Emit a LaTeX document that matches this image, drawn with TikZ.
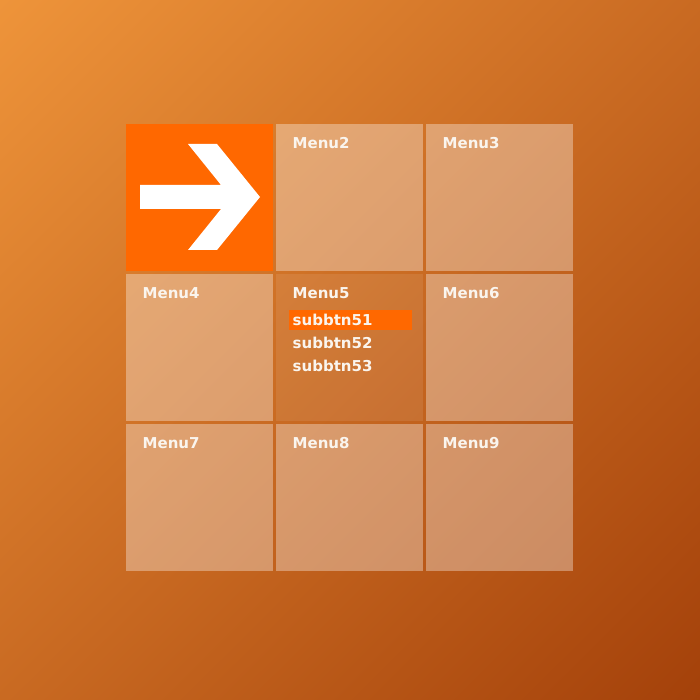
\documentclass[tikz,border=0pt]{standalone}
\usepackage{fontspec}
\usetikzlibrary{shadings}
\setmainfont{DejaVu Sans}
\begin{document}
\begin{tikzpicture}[x=1pt,y=-1pt,
  tile/.style={minimum width=147pt,minimum height=147pt,inner sep=0pt,outer sep=0pt,anchor=north west,fill=white,fill opacity=0.34,draw=none},
  acttile/.style={tile,fill=white,fill opacity=0.09},
  hometile/.style={tile,fill=tileorange,fill opacity=1},
  lbl/.style={anchor=base west,inner sep=0pt,text=txt,font=\bfseries\fontsize{15}{17}\selectfont},
  hbar/.style={fill=tileorange,draw=none,inner sep=0pt,minimum width=123pt,minimum height=20pt,anchor=north west}]
\definecolor{bgA}{RGB}{238,148,58}
\definecolor{bgB}{RGB}{164,65,10}
\definecolor{bgM}{RGB}{201,106,34}
\definecolor{tileorange}{RGB}{255,104,0}
\definecolor{txt}{RGB}{250,245,238}
\useasboundingbox (0,0) rectangle (700,700);
\shade[upper left=bgA,lower right=bgB,upper right=bgM,lower left=bgM] (0,0) rectangle (700,700);
% tiles
\node[hometile] (t1) at (126,124) {};
\node[tile] (t2) at (276,124) {};
\node[tile] (t3) at (426,124) {};
\node[tile] (t4) at (126,274) {};
\node[acttile] (t5) at (276,274) {};
\node[tile] (t6) at (426,274) {};
\node[tile] (t7) at (126,424) {};
\node[tile] (t8) at (276,424) {};
\node[tile] (t9) at (426,424) {};
% arrow
\fill[white] (140,185) -- (221,185) -- (188,144) -- (217,144) -- (260,197) -- (217,250) -- (188,250) -- (221,209) -- (140,209) -- cycle;
% labels
\node[lbl] (l2) at (292.5,149) {Menu2};
\node[lbl] (l3) at (442.5,149) {Menu3};
\node[lbl] (l4) at (142.5,298.5) {Menu4};
\node[lbl] (l5) at (292.5,298.5) {Menu5};
\node[lbl] (l6) at (442.5,298.5) {Menu6};
\node[lbl] (l7) at (142.5,448) {Menu7};
\node[lbl] (l8) at (292.5,448) {Menu8};
\node[lbl] (l9) at (442.5,448) {Menu9};
% submenu
\node[hbar] (hb) at (288.5,309.5) {};
\node[lbl] (s1) at (292.5,325) {subbtn51};
\node[lbl] (s2) at (292.5,348.3) {subbtn52};
\node[lbl] (s3) at (292.5,371.6) {subbtn53};
\end{tikzpicture}
\end{document}
